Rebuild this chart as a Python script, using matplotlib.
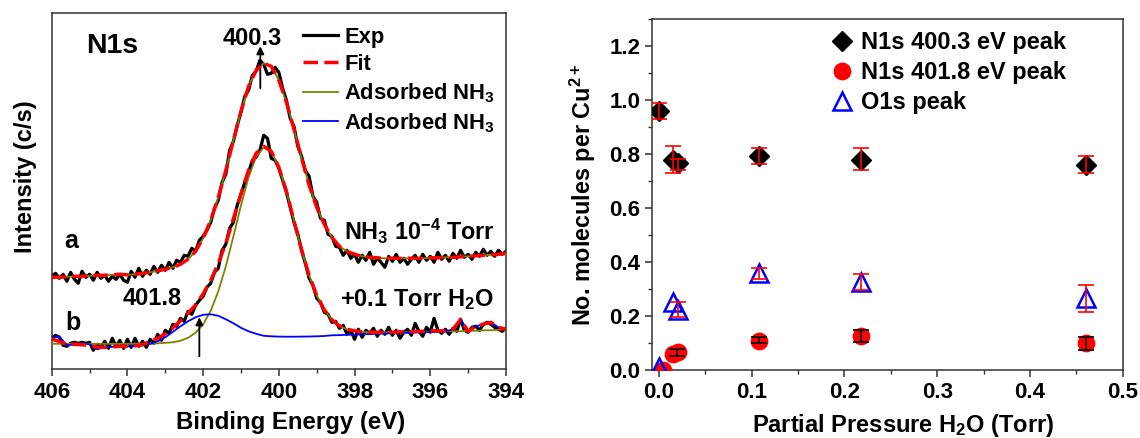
import numpy as np
import matplotlib
matplotlib.use("Agg")
import matplotlib.pyplot as plt
from matplotlib.ticker import MultipleLocator
from matplotlib.lines import Line2D

plt.rcParams['font.family'] = ['Liberation Sans', 'DejaVu Sans']
plt.rcParams['font.weight'] = 'bold'
plt.rcParams['mathtext.fontset'] = 'custom'
plt.rcParams['mathtext.rm'] = 'Liberation Sans:bold'
plt.rcParams['mathtext.it'] = 'Liberation Sans:bold'
plt.rcParams['mathtext.bf'] = 'Liberation Sans:bold'
plt.rcParams['mathtext.default'] = 'rm'

# ---------------- Left panel data (binding energy, arbitrary intensity) ----------------
energy_exp = np.linspace(406.0, 394.0, 121)   # 0.1 eV steps
energy_fit = np.linspace(406.0, 394.0, 61)    # 0.2 eV steps

exp_a = [93, 96, 91, 95, 88, 97, 90, 86, 98, 92,
         95, 89, 97, 91, 94, 88, 93, 90, 95, 89,
         87, 98, 92, 101, 93, 99, 95, 103, 97, 104,
         99, 107, 101, 109, 107, 114, 113, 121, 118, 129,
         133, 139, 147, 161, 169, 187, 195, 219, 228, 244,
         257, 273, 279, 294, 298, 309, 305, 295, 296, 302,
         297, 281, 269, 251, 243, 223, 213, 199, 193, 173,
         167, 151, 149, 135, 133, 123, 122, 114, 119, 111,
         115, 107, 114, 109, 117, 105, 111, 107, 102, 113,
         108, 115, 107, 111, 105, 110, 114, 107, 115, 109,
         113, 107, 117, 110, 114, 108, 116, 111, 119, 112,
         115, 110, 117, 113, 120, 114, 118, 113, 119, 115,
         118]

fit_a = [92, 92, 92.5, 93, 93, 93.5, 94, 94, 94.5, 95,
         94.5, 95, 96, 97, 98.5, 100, 102, 105, 110, 118,
         131, 149, 172, 199, 229, 258, 283, 299, 306, 303,
         289, 267, 240, 211, 184, 162, 145, 132, 123, 118,
         115, 113, 112, 111.5, 111, 111, 111, 111, 111, 111,
         111.5, 111.5, 112, 112, 112.5, 113, 113.5, 114, 114.5, 115,
         116]

exp_b = [31, 34, 32, 24, 23, 26, 27, 26, 27, 26,
         27, 19, 25, 22, 28, 21, 31, 23, 29, 21,
         30, 22, 31, 23, 28, 22, 30, 26, 35, 29,
         39, 36, 45, 43, 51, 48, 58, 55, 64, 69,
         73, 82, 86, 97, 101, 119, 125, 141, 147, 164,
         175, 187, 197, 209, 212, 219, 234, 231, 211, 209,
         201, 189, 177, 162, 147, 135, 119, 106, 91, 84,
         71, 67, 57, 55, 47, 48, 41, 44, 35, 39,
         30, 40, 32, 39, 36, 41, 33, 39, 35, 42,
         34, 39, 31, 37, 40, 34, 46, 38, 33, 42,
         37, 51, 39, 36, 40, 35, 41, 38, 50, 39,
         37, 42, 43, 39, 45, 47, 45, 42, 40, 38,
         41]

fit_b = [30, 28, 25, 25, 24.5, 24, 22, 22, 22.5, 23,
         23, 23.5, 24.5, 28, 31, 35.5, 41.5, 48.5, 56, 64.5,
         75.5, 89, 106, 126, 150.5, 175.5, 199, 216, 223, 218,
         202, 178, 148.5, 119.5, 94, 74, 59.5, 49.5, 43.5, 40,
         38.5, 37.5, 37, 37, 37, 37, 37.5, 37.5, 38, 38,
         38.5, 38.5, 38.5, 40, 50, 38, 43, 45, 47, 42,
         40]

ads_b_main = [25.5, 25.5, 25.5, 25.5, 25.5, 25.5, 25.5, 25.5, 25.5, 25.5,
              25.5, 25.5, 25.5, 25.5, 26, 26.5, 27, 28.5, 31.5, 36.5,
              45, 58.5, 78, 103, 133, 164, 192, 212.5, 222, 218,
              202, 178, 148.5, 119.5, 94, 74, 59.5, 49.5, 43.5, 40,
              38.5, 37.5, 37, 37, 37, 37, 37, 37, 37.5, 37.5,
              37.5, 37.5, 38, 38, 38, 38.5, 38.5, 39, 39, 39.5,
              40]

ads_b_high = [31, 33, 24, 25, 26, 25, 20, 22, 22.5, 23,
              23, 23.5, 24, 25.5, 28, 32, 37.5, 43, 48, 52,
              54.5, 55, 53.5, 50, 46, 41.5, 38, 35.5, 33.5, 33,
              32.7, 32.6, 32.6, 32.7, 32.8, 33, 33.3, 34, 34.2, 34.5,
              34.7, 35, 35.2, 35.5, 35.7, 36, 36.2, 36.5, 36.7, 37,
              37.2, 37.5, 38, 40, 50, 38, 43, 45, 47, 42,
              40]

energy_ticks = [406, 404, 402, 400, 398, 396, 394]

# ---------------- Right panel data ----------------
pressure = [0.0, 0.015, 0.02, 0.108, 0.218, 0.46]
n1s_400 = [0.96, 0.78, 0.766, 0.793, 0.78, 0.76]
n400_err_y = [0.96, 0.78, 0.762, 0.793, 0.782, 0.762]
n400_err = [0.03, 0.05, 0.02, 0.03, 0.042, 0.032]

pressure_n401 = [0.004, 0.015, 0.02, 0.108, 0.218, 0.46]
n1s_401 = [0.0, 0.058, 0.067, 0.108, 0.127, 0.10]
n401_err_x = [0.019, 0.108, 0.218, 0.46]
n401_err_y = [0.065, 0.11, 0.127, 0.098]
n401_err = [0.013, 0.011, 0.022, 0.024]

o1s = [0.012, 0.253, 0.224, 0.36, 0.328, 0.268]
o1s_err_x = [0.02, 0.108, 0.218, 0.46]
o1s_err_y = [0.224, 0.357, 0.326, 0.266]
o1s_err = [0.029, 0.02, 0.03, 0.05]

pressure_ticks = [0.0, 0.1, 0.2, 0.3, 0.4, 0.5]
pressure_ticklabels = ['0.0', '0.1', '0.2', '0.3', '0.4', '0.5']
count_ticks = [0.0, 0.2, 0.4, 0.6, 0.8, 1.0, 1.2]
count_ticklabels = ['0.0', '0.2', '0.4', '0.6', '0.8', '1.0', '1.2']

OLIVE = '#808000'
RED = '#ff0000'
BLUE = '#0000ff'
SPINE = '#333333'
FIT_DASH = (4.2, 1.8)

fig = plt.figure(figsize=(11.4, 4.38), dpi=100)

# ================= Left panel =================
axL = fig.add_axes([51.7 / 1140, 1 - 369.3 / 438, (506 - 51.7) / 1140, (369.3 - 12.7) / 438])
axL.plot(energy_exp, exp_a, color='black', lw=2.3, zorder=2)
axL.plot(energy_exp, exp_b, color='black', lw=2.3, zorder=2)
axL.plot(energy_fit, fit_a, color=OLIVE, lw=1.3, zorder=3)
axL.plot(energy_fit, ads_b_main, color=OLIVE, lw=1.3, zorder=3)
axL.plot(energy_fit, ads_b_high, color=BLUE, lw=1.3, zorder=3)
axL.plot(energy_fit, fit_a, color=RED, lw=2.5, dashes=FIT_DASH, zorder=4)
axL.plot(energy_fit, fit_b, color=RED, lw=2.5, dashes=FIT_DASH, zorder=4)

axL.set_xlim(406, 394)
axL.set_ylim(0, 356.6)
axL.set_xticks(energy_ticks)
axL.set_xticklabels([str(t) for t in energy_ticks])
axL.xaxis.set_minor_locator(MultipleLocator(1))
axL.set_yticks([])
axL.tick_params(axis='x', which='major', direction='out', length=5, width=1.1,
                labelsize=16, pad=4.0, color=SPINE)
axL.tick_params(axis='x', which='minor', direction='out', length=3, width=1.0, color=SPINE)
for s in axL.spines.values():
    s.set_linewidth(1.1)
    s.set_color(SPINE)
axL.set_xlabel('Binding Energy (eV)', fontsize=17.3, fontweight='bold')
axL.xaxis.set_label_coords(0.527, -0.116)
axL.set_ylabel('Intensity (c/s)', fontsize=17, fontweight='bold')
axL.yaxis.set_label_coords(-0.033, 0.54)

axL.text(405.09, 316, 'N1s', fontsize=20.5, fontweight='bold', ha='left', va='baseline')
axL.text(400.70, 324, '400.3', fontsize=17, fontweight='bold', ha='center', va='baseline')
axL.annotate('', xy=(400.49, 323), xytext=(400.49, 281),
             arrowprops=dict(arrowstyle='-|>', lw=1.3, color='black', mutation_scale=11,
                             shrinkA=0, shrinkB=0))
axL.text(405.68, 121, 'a', fontsize=18, fontweight='bold', ha='left', va='baseline')
axL.text(405.63, 39, 'b', fontsize=18, fontweight='bold', ha='left', va='baseline')
axL.text(394.3, 129, r'NH$_3$ 10$^{-4}$ Torr', fontsize=16.8, fontweight='bold',
         ha='right', va='baseline')
axL.text(394.32, 63, r'+0.1 Torr H$_2$O', fontsize=17, fontweight='bold',
         ha='right', va='baseline')
axL.text(403.35, 64, '401.8', fontsize=17, fontweight='bold', ha='center', va='baseline')
axL.annotate('', xy=(402.1, 52), xytext=(402.1, 13),
             arrowprops=dict(arrowstyle='-|>', lw=1.3, color='black', mutation_scale=11,
                             shrinkA=0, shrinkB=0))

handlesL = [Line2D([], [], color='black', lw=2.3),
            Line2D([], [], color=RED, lw=2.5, dashes=FIT_DASH),
            Line2D([], [], color=OLIVE, lw=1.3),
            Line2D([], [], color=BLUE, lw=1.3)]
labelsL = ['Exp', 'Fit', r'Adsorbed NH$_3$', r'Adsorbed NH$_3$']
legL = axL.legend(handlesL, labelsL, loc='upper left', bbox_to_anchor=(0.554, 0.96),
                  frameon=False, fontsize=15.8, handlelength=1.6, handletextpad=0.27,
                  borderpad=0, borderaxespad=0, labelspacing=0.28)

# ================= Right panel =================
axR = fig.add_axes([652 / 1140, 1 - 370 / 438, (1122.7 - 652) / 1140, (370 - 19.3) / 438])
axR.plot(pressure, n1s_400, linestyle='none', marker='D', ms=9.8, mfc='black', mec='black',
         mew=1, zorder=3, label='N1s 400.3 eV peak')
axR.errorbar(pressure, n400_err_y, yerr=n400_err, fmt='none', ecolor=RED, elinewidth=1.2,
             capsize=6, capthick=1.2, zorder=4)
axR.plot(pressure_n401, n1s_401, linestyle='none', marker='o', ms=11.8, mfc=RED, mec=RED,
         mew=1, zorder=3, label='N1s 401.8 eV peak')
axR.errorbar(n401_err_x, n401_err_y, yerr=n401_err, fmt='none', ecolor='black',
             elinewidth=1.2, capsize=6, capthick=1.2, zorder=4)
axR.plot(pressure, o1s, linestyle='none', marker='^', ms=12.5, mfc='none', mec=BLUE,
         mew=1.8, zorder=3, label='O1s peak')
axR.errorbar(o1s_err_x, o1s_err_y, yerr=o1s_err, fmt='none', ecolor=RED, elinewidth=1.2,
             capsize=6, capthick=1.2, zorder=4)

axR.set_xlim(-0.0075, 0.5)
axR.set_ylim(0, 1.3)
axR.set_xticks(pressure_ticks)
axR.set_xticklabels(pressure_ticklabels)
axR.set_yticks(count_ticks)
axR.set_yticklabels(count_ticklabels)
axR.xaxis.set_minor_locator(MultipleLocator(0.05))
axR.yaxis.set_minor_locator(MultipleLocator(0.1))
axR.tick_params(axis='both', which='major', direction='out', length=5, width=1.1,
                labelsize=16, color=SPINE)
axR.tick_params(axis='x', which='major', pad=4.0)
axR.tick_params(axis='y', which='major', pad=3.5)
axR.tick_params(axis='both', which='minor', direction='out', length=3, width=1.0, color=SPINE)
for lab in axR.get_xticklabels() + axR.get_yticklabels() + axL.get_xticklabels():
    lab.set_fontweight('bold')
for s in axR.spines.values():
    s.set_linewidth(1.1)
    s.set_color(SPINE)
axR.set_xlabel(r'Partial Pressure H$_2$O (Torr)', fontsize=17, fontweight='bold')
axR.xaxis.set_label_coords(0.533, -0.12)
axR.set_ylabel(r'No. molecules per Cu$^{2+}$', fontsize=16.8, fontweight='bold')
axR.yaxis.set_label_coords(-0.115, 0.5)

legR = axR.legend(loc='upper left', bbox_to_anchor=(0.378, 0.966), frameon=False,
                  fontsize=17, handlelength=1.0, handletextpad=0.3, borderpad=0,
                  borderaxespad=0, labelspacing=0.3, numpoints=1)

fig.savefig('out.png', dpi=100)
